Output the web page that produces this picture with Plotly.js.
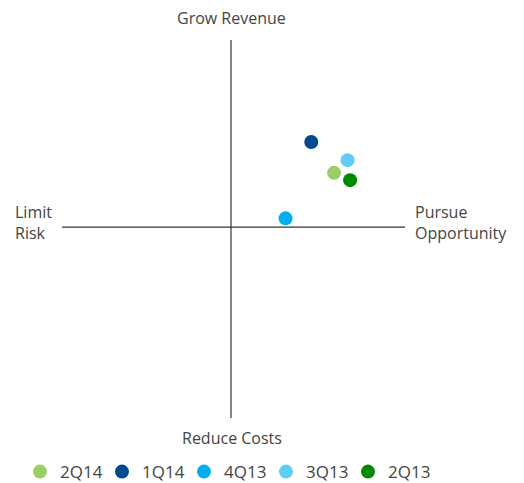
<!DOCTYPE html>
<html>
<head>
<meta charset="utf-8">
<script src="https://cdn.plot.ly/plotly-3.0.1.min.js"></script>
<style>html,body{margin:0;padding:0;background:#fff;}#chart{width:524px;height:483px;}</style>
</head>
<body>
<div id="chart"></div>
<script>
var seriesNames = ["2Q14", "1Q14", "4Q13", "3Q13", "2Q13"];
var xValues = [0.61, 0.475, 0.323, 0.69, 0.705];
var yValues = [0.29, 0.455, 0.047, 0.358, 0.251];
var colors = ["#9BCF65", "#004B8D", "#00AEEF", "#60CDF5", "#008A00"];

var traces = seriesNames.map(function (name, i) {
  return {
    type: "scatter",
    mode: "markers",
    name: name,
    x: [xValues[i]],
    y: [yValues[i]],
    marker: { color: colors[i], size: 14 },
    hoverinfo: "name"
  };
});

var txt = { family: "Open Sans, sans-serif", size: 16, color: "#444444" };

var layout = {
  width: 524,
  height: 483,
  margin: { l: 10, r: 10, t: 40, b: 65, autoexpand: false },
  paper_bgcolor: "#ffffff",
  plot_bgcolor: "#ffffff",
  font: txt,
  showlegend: true,
  xaxis: { range: [-1.308, 1.675], visible: false, fixedrange: true },
  yaxis: { range: [-1.02, 1], visible: false, fixedrange: true },
  shapes: [
    { type: "line", xref: "x", yref: "y", x0: -1, x1: 1.03, y0: 0, y1: 0, line: { color: "#333333", width: 1.2 } },
    { type: "line", xref: "x", yref: "y", x0: 0, x1: 0, y0: -1.02, y1: 1, line: { color: "#333333", width: 1.2 } }
  ],
  annotations: [
    { text: "Grow Revenue", xref: "paper", yref: "paper", x: 0.4385, y: 1.058, xanchor: "center", yanchor: "middle", showarrow: false, font: txt },
    { text: "Reduce Costs", xref: "paper", yref: "paper", x: 0.4405, y: -0.0529, xanchor: "center", yanchor: "middle", showarrow: false, font: txt },
    { text: "Limit<br>Risk", xref: "paper", yref: "paper", x: 0.006, y: 0.5185, xanchor: "left", yanchor: "middle", align: "left", showarrow: false, font: txt },
    { text: "Pursue<br>Opportunity", xref: "paper", yref: "paper", x: 0.7996, y: 0.5185, xanchor: "left", yanchor: "middle", align: "left", showarrow: false, font: txt }
  ],
  legend: {
    orientation: "h",
    xref: "paper",
    yref: "paper",
    x: 0.0198,
    y: -0.143,
    xanchor: "left",
    yanchor: "middle",
    font: { family: "Open Sans, sans-serif", size: 17, color: "#444444" },
    itemwidth: 30,
    entrywidth: 37,
    tracegroupgap: 0
  }
};

Plotly.newPlot("chart", traces, layout, { displayModeBar: false, staticPlot: true });
</script>
</body>
</html>
